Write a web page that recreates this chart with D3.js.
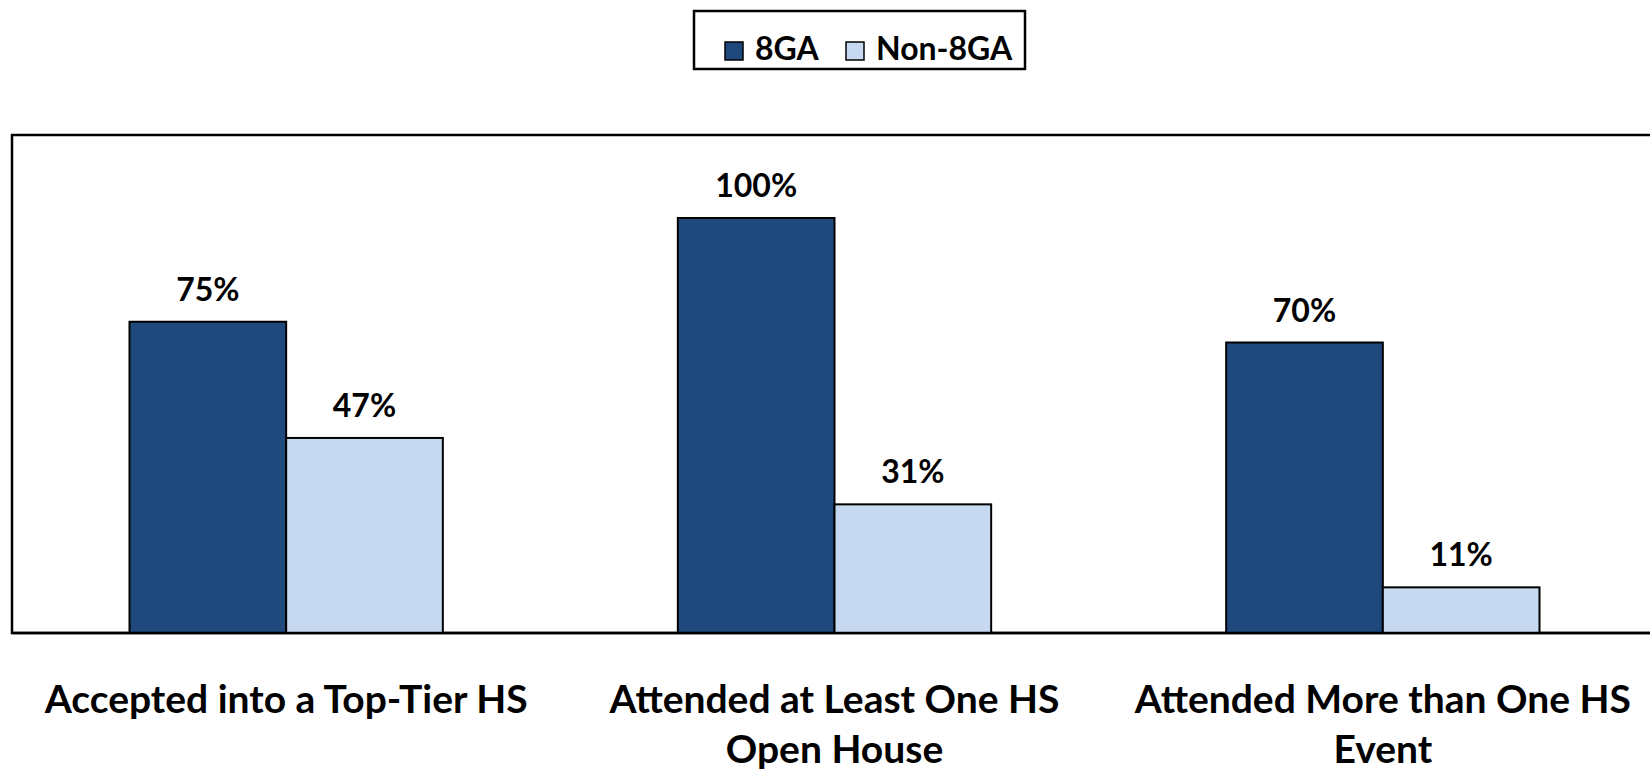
<!DOCTYPE html>
<html>
<head>
<meta charset="utf-8">
<script src="https://cdn.jsdelivr.net/npm/d3@7"></script>
<style>
  body { margin: 0; background: #fff; }
  text { font-family: Lato, "Open Sans", sans-serif; font-weight: bold; fill: #000; }
</style>
</head>
<body>
<script>
// chart data
const categories = ['Accepted into a Top-Tier HS', 'Attended at Least One HS Open House', 'Attended More than One HS Event'];
const categoryLines = [['Accepted into a Top-Tier HS'], ['Attended at Least One HS', 'Open House'], ['Attended More than One HS', 'Event']];
const seriesNames = ['8GA', 'Non-8GA'];
const values8GA = [75, 100, 70];
const valuesNon8GA = [47, 31, 11];
const yMax = 120;

const colors = { '8GA': '#1f497d', 'Non-8GA': '#c6d9f1' };

const render = () => {
  const width = 1650;
  const height = 770;

  const plot = { left: 12, top: 135, bottom: 633, right: 1657 };

  const svg = d3.select('body').append('svg')
    .attr('width', width)
    .attr('height', height);

  const rows = categories.map((c, i) => ({ cat: c, lines: categoryLines[i], vals: { '8GA': values8GA[i], 'Non-8GA': valuesNon8GA[i] } }));

  // scales
  const gap = 1.5; // gap width 150% of one bar
  const pInner = gap / (2 + gap);
  const xScale = d3.scaleBand()
    .domain(categories)
    .range([plot.left, plot.right])
    .paddingInner(pInner)
    .paddingOuter(pInner / 2);

  const xSub = d3.scaleBand()
    .domain(seriesNames)
    .range([0, xScale.bandwidth()]);

  const yScale = d3.scaleLinear()
    .domain([0, yMax])
    .range([plot.bottom, plot.top]);

  // plot area frame (right edge falls outside the picture)
  svg.append('path')
    .attr('d', `M${plot.right},${plot.top}H${plot.left}V${plot.bottom}H${plot.right}`)
    .attr('fill', 'none')
    .attr('stroke', '#000')
    .attr('stroke-width', 2.5);

  // bars
  const groups = svg.selectAll('g.group').data(rows)
    .enter().append('g')
    .attr('class', 'group')
    .attr('transform', d => `translate(${xScale(d.cat)},0)`);

  groups.selectAll('rect').data(d => seriesNames.map(s => ({ s, v: d.vals[s] })))
    .enter().append('rect')
    .attr('x', d => xSub(d.s))
    .attr('y', d => yScale(d.v))
    .attr('width', xSub.bandwidth())
    .attr('height', d => yScale(0) - yScale(d.v))
    .attr('fill', d => colors[d.s])
    .attr('stroke', '#000')
    .attr('stroke-width', 2);

  groups.selectAll('text.val').data(d => seriesNames.map(s => ({ s, v: d.vals[s] })))
    .enter().append('text')
    .attr('class', 'val')
    .attr('x', d => xSub(d.s) + xSub.bandwidth() / 2)
    .attr('y', d => yScale(d.v) - 21)
    .attr('text-anchor', 'middle')
    .style('font-size', '32px')
    .text(d => d.v + '%');

  // redraw the base line over the bars
  svg.append('line')
    .attr('x1', plot.left).attr('x2', plot.right)
    .attr('y1', plot.bottom).attr('y2', plot.bottom)
    .attr('stroke', '#000')
    .attr('stroke-width', 2.5);

  // category labels
  const catLabels = svg.selectAll('text.cat').data(rows)
    .enter().append('text')
    .attr('class', 'cat')
    .attr('text-anchor', 'middle')
    .style('font-size', '39px')
    .attr('transform', d => `translate(${xScale(d.cat) + xScale.bandwidth() / 2},713)`);

  catLabels.selectAll('tspan').data(d => d.lines)
    .enter().append('tspan')
    .attr('x', 0)
    .attr('y', (d, i) => i * 50)
    .text(d => d);

  // legend
  const legend = svg.append('g').attr('id', 'legend');
  legend.append('rect')
    .attr('x', 694).attr('y', 11)
    .attr('width', 331).attr('height', 58)
    .attr('fill', '#fff')
    .attr('stroke', '#000')
    .attr('stroke-width', 2.5);

  const legendX = [725, 846];
  const items = legend.selectAll('g.item').data(seriesNames)
    .enter().append('g')
    .attr('class', 'item')
    .attr('transform', (d, i) => `translate(${legendX[i]},42)`);

  items.append('rect')
    .attr('width', 18).attr('height', 18)
    .attr('fill', d => colors[d])
    .attr('stroke', '#000')
    .attr('stroke-width', 1.5);

  items.append('text')
    .attr('x', 30)
    .attr('y', 18)
    .style('font-size', '32px')
    .text(d => d);
};

render();
</script>
</body>
</html>
